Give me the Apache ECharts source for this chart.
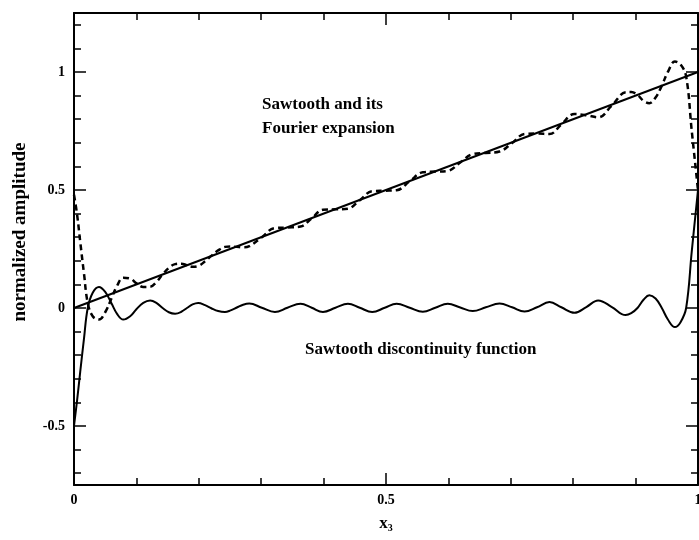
<!DOCTYPE html>
<html>
<head>
<meta charset="utf-8">
<script src="https://cdn.jsdelivr.net/npm/echarts@6/dist/echarts.min.js"></script>
<style>
  html, body { margin: 0; padding: 0; background: #fff; }
  #chart-container { width: 699px; height: 540px; }
</style>
</head>
<body>
<div id="chart-container"></div>
<script>
// values
var xs = [0, 0.005, 0.010, 0.016, 0.022, 0.030, 0.040, 0.050, 0.060, 0.069,
  0.079, 0.090, 0.100, 0.111, 0.122, 0.132, 0.142, 0.152, 0.162, 0.172,
  0.181, 0.190, 0.199, 0.210, 0.220, 0.231, 0.242, 0.251, 0.261, 0.271,
  0.281, 0.301, 0.322, 0.342, 0.363, 0.381, 0.399, 0.419, 0.439, 0.458,
  0.478, 0.498, 0.517, 0.538, 0.559, 0.579, 0.599, 0.619, 0.639, 0.660,
  0.682, 0.702, 0.722, 0.742, 0.762, 0.781, 0.802, 0.821, 0.840, 0.862,
  0.884, 0.893, 0.903, 0.913, 0.922, 0.932, 0.942, 0.952, 0.963, 0.972,
  0.981, 0.990, 1.0];

var discontinuity = [-0.5, -0.39, -0.27, -0.13, 0.0, 0.065, 0.089, 0.068, 0.02, -0.025,
  -0.049, -0.035, -0.005, 0.022, 0.032, 0.022, 0.0, -0.018, -0.024, -0.016,
  0.0, 0.015, 0.021, 0.012, -0.001, -0.013, -0.017, -0.01, 0.002, 0.014,
  0.019, 0.001, -0.017, 0.001, 0.018, 0.001, -0.017, 0.001, 0.018, 0.001,
  -0.017, 0.001, 0.018, 0.001, -0.016, 0.001, 0.018, 0.002, -0.013, 0.003,
  0.019, 0.003, -0.015, 0.003, 0.025, 0.003, -0.020, 0.004, 0.032, 0.004,
  -0.030, -0.022, 0.0, 0.036, 0.054, 0.040, 0.0, -0.05, -0.081, -0.06,
  0.0, 0.24, 0.5];

var fourier = [0.48, 0.395, 0.28, 0.146, 0.022, -0.035, -0.049, -0.018, 0.040, 0.094,
  0.128, 0.125, 0.105, 0.089, 0.090, 0.110, 0.142, 0.170, 0.186, 0.188,
  0.181, 0.175, 0.178, 0.198, 0.221, 0.244, 0.259, 0.261, 0.259, 0.257,
  0.262, 0.300, 0.339, 0.341, 0.345, 0.380, 0.416, 0.418, 0.421, 0.457,
  0.495, 0.497, 0.499, 0.537, 0.575, 0.578, 0.581, 0.617, 0.652, 0.657,
  0.663, 0.699, 0.737, 0.739, 0.737, 0.778, 0.822, 0.817, 0.808, 0.858,
  0.914, 0.915, 0.903, 0.877, 0.868, 0.892, 0.942, 1.002, 1.044, 1.032,
  0.981, 0.750, 0.500];

var sawX = [0, 1];
var sawY = [0, 1];

var xLabelTicks = [0, 0.5, 1];
var xMinorTicks = [0.1, 0.2, 0.3, 0.4, 0.6, 0.7, 0.8, 0.9];
var yLabelTicks = [-0.5, 0, 0.5, 1];
var yMinorTicks = [-0.7, -0.6, -0.4, -0.3, -0.2, -0.1, 0.1, 0.2, 0.3, 0.4,
  0.6, 0.7, 0.8, 0.9, 1.1, 1.2];

var FONT = '"Liberation Serif", "DejaVu Serif", serif';

function pairs(a, b) {
  return a.map(function (v, i) { return [v, b[i]]; });
}

var dom = document.getElementById('chart-container');
var myChart = echarts.init(dom, null, {renderer: 'canvas'});

function makeX(pos, major, showLine, withLabels) {
  return {
    type: 'value', min: 0, max: 1, position: pos,
    axisLine: {show: showLine, onZero: false, lineStyle: {color: '#000', width: 2}},
    axisTick: {inside: true, length: major ? 12 : 7, customValues: major ? xLabelTicks : xMinorTicks,
      lineStyle: {color: '#000', width: 1.5}},
    axisLabel: withLabels ? {customValues: xLabelTicks, color: '#000', fontFamily: FONT,
      fontWeight: 'bold', fontSize: 14, margin: 8} : {show: false},
    splitLine: {show: false}
  };
}
function makeY(pos, major, showLine, withLabels) {
  return {
    type: 'value', min: -0.75, max: 1.25, position: pos,
    axisLine: {show: showLine, onZero: false, lineStyle: {color: '#000', width: 2}},
    axisTick: {inside: true, length: major ? 12 : 7, customValues: major ? yLabelTicks : yMinorTicks,
      lineStyle: {color: '#000', width: 1.5}},
    axisLabel: withLabels ? {customValues: yLabelTicks, color: '#000', fontFamily: FONT,
      fontWeight: 'bold', fontSize: 14, margin: 9} : {show: false},
    splitLine: {show: false}
  };
}

var xAxes = [makeX('bottom', true, true, true), makeX('bottom', false, false, false),
  makeX('top', true, true, false), makeX('top', false, false, false)];
xAxes[0].name = '{x|x}{s|3}';
xAxes[0].nameLocation = 'middle';
xAxes[0].nameGap = 30;
xAxes[0].nameTextStyle = {rich: {
  x: {fontFamily: FONT, fontWeight: 'bold', fontSize: 17, color: '#000'},
  s: {fontFamily: FONT, fontWeight: 'bold', fontSize: 10, color: '#000', verticalAlign: 'bottom', padding: [8, 0, 0, 0]}
}};

var yAxes = [makeY('left', true, true, true), makeY('left', false, false, false),
  makeY('right', true, true, false), makeY('right', false, false, false)];

option = {
  backgroundColor: '#fff',
  animation: false,
  grid: {left: 74, right: 1, top: 13, bottom: 55, containLabel: false, outerBoundsMode: 'none'},
  xAxis: xAxes,
  yAxis: yAxes,
  graphic: [
    {type: 'text', x: 20, y: 232, rotation: Math.PI / 2, style: {text: 'normalized amplitude', fill: '#000',
      font: 'bold 19px ' + FONT, align: 'center', verticalAlign: 'middle'}},
    {type: 'text', left: 262, top: 96, style: {text: 'Sawtooth and its', fill: '#000',
      font: 'bold 17px ' + FONT}},
    {type: 'text', left: 262, top: 120, style: {text: 'Fourier expansion', fill: '#000',
      font: 'bold 17px ' + FONT}},
    {type: 'text', left: 305, top: 341, style: {text: 'Sawtooth discontinuity function', fill: '#000',
      font: 'bold 17px ' + FONT}}
  ],
  series: [
    {
      name: 'Sawtooth', type: 'line', xAxisIndex: 0, yAxisIndex: 0,
      data: pairs(sawX, sawY), showSymbol: false,
      lineStyle: {color: '#000', width: 2}
    },
    {
      name: 'Fourier expansion', type: 'line', xAxisIndex: 0, yAxisIndex: 0,
      data: pairs(xs, fourier), showSymbol: false, smooth: 0.4,
      lineStyle: {color: '#000', width: 2.5, type: [6, 4]}
    },
    {
      name: 'Sawtooth discontinuity function', type: 'line', xAxisIndex: 0, yAxisIndex: 0,
      data: pairs(xs, discontinuity), showSymbol: false, smooth: 0.4,
      lineStyle: {color: '#000', width: 2}
    }
  ]
};

myChart.setOption(option);
window.addEventListener('resize', myChart.resize)
</script>
</body>
</html>
